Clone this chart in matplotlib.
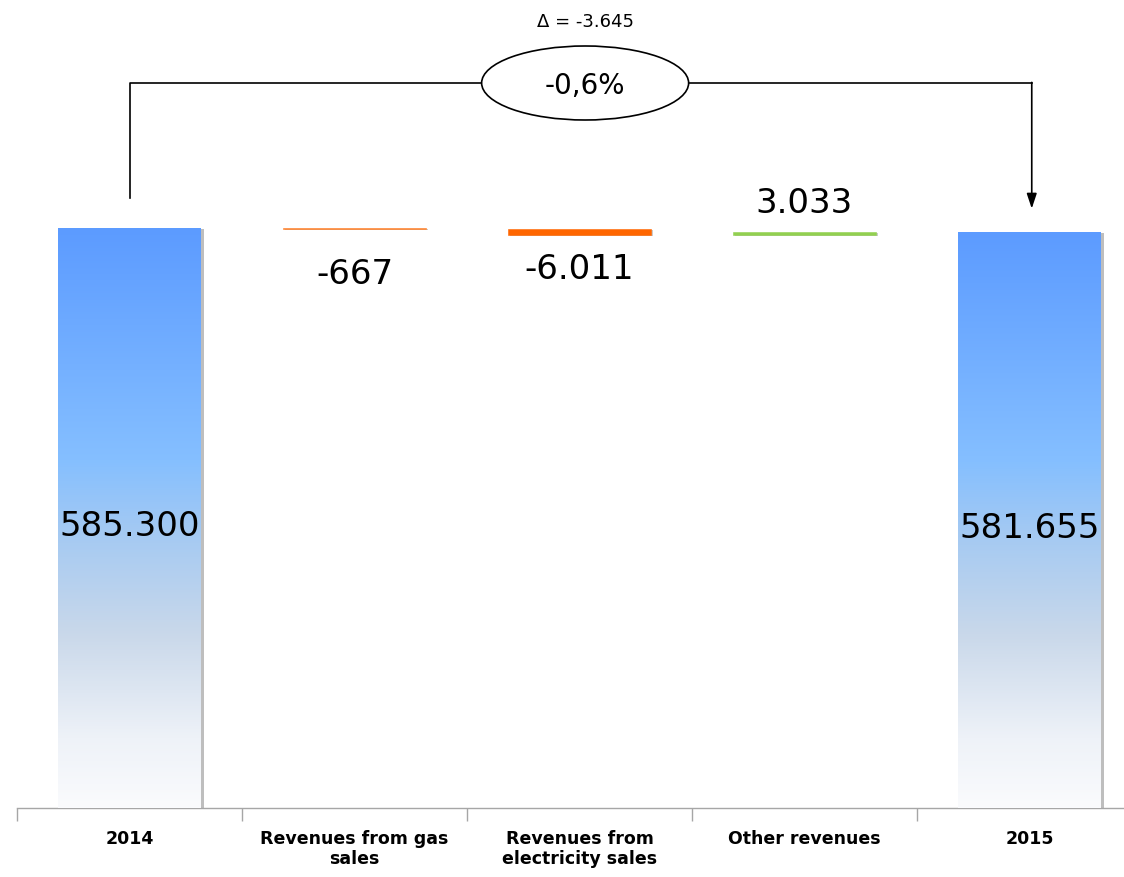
import matplotlib
matplotlib.use("Agg")
import matplotlib.pyplot as plt
import numpy as np
from matplotlib.patches import Ellipse
from matplotlib import patheffects as pe
from matplotlib.colors import LinearSegmentedColormap

# ---------- DATA ----------
categories = ["2014", "Revenues from gas\nsales", "Revenues from\nelectricity sales",
              "Other revenues", "2015"]
start_value = 585300
changes = [-667, -6011, 3033]
end_value = 581655
change_colors = ["#FF7F27", "#FF6600", "#92D050"]


def fmt(v):
    return f"{v:,.0f}".replace(",", ".")


# ---------- FIGURE ----------
fig = plt.figure(figsize=(11.24, 8.77), dpi=100)
ax = fig.add_axes([17 / 1124, 69 / 877, 1125 / 1124, 808 / 877])
ytop = start_value * 808 / 580
px = ytop / 808  # value units per pixel

blue = LinearSegmentedColormap.from_list(
    "bar_blue",
    [(0.0, "#FAFBFD"), (0.12, "#EEF2F8"), (0.3, "#C9D8EA"), (0.48, "#A3C9F3"),
     (0.6, "#85BFFF"), (1.0, "#5C9BFF")])
gradient = np.linspace(0, 1, 256).reshape(-1, 1)
shadow = [pe.SimplePatchShadow(offset=(2.5, -1), shadow_rgbFace="#7F7F7F", alpha=0.5), pe.Normal()]
bar_w = 0.635

# totals
for i, val in [(0, start_value), (4, end_value)]:
    bar = ax.bar(i, val, width=bar_w, color="white", zorder=2)[0]
    bar.set_path_effects(shadow)
    im = ax.imshow(gradient, cmap=blue, origin="lower", aspect="auto",
                   extent=[i - bar_w / 2, i + bar_w / 2, 0, val], zorder=3)
    im.set_clip_path(bar)
    ax.text(i, val * 0.485, fmt(val), ha="center", va="center", fontsize=24.5, zorder=5)

# changes
level = start_value
label_gap = [29, 18, 12]
for k, (c, col) in enumerate(zip(changes, change_colors)):
    x = k + 1
    bottom = min(level, level + c)
    bar = ax.bar(x, abs(c), bottom=bottom, width=bar_w, color=col,
                 edgecolor=col, linewidth=0.4, zorder=2)[0]
    bar.set_path_effects([pe.SimplePatchShadow(offset=(1.5, -1), shadow_rgbFace="#999999", alpha=0.5),
                          pe.Normal()])
    if c < 0:
        ax.annotate(fmt(c), (x, bottom), xytext=(0, -label_gap[k]), textcoords="offset pixels",
                    ha="center", va="top", fontsize=24.5)
    else:
        ax.annotate(fmt(c), (x, bottom + abs(c)), xytext=(0, label_gap[k]), textcoords="offset pixels",
                    ha="center", va="bottom", fontsize=24.5)
    level += c

# ---------- BRACKET ----------
delta = end_value - start_value
pct = delta / start_value * 100
line_y = start_value + 145 * px
ell_x, ell_w, ell_h = 2.025, 0.92, 74 * px
lw = 1.2
ax.plot([0, 0, ell_x - ell_w / 2], [start_value + 30 * px, line_y, line_y],
        color="black", lw=lw, clip_on=False, zorder=4)
ax.plot([ell_x + ell_w / 2, 4.01], [line_y, line_y], color="black", lw=lw, clip_on=False, zorder=4)
ax.annotate("", xy=(4.01, end_value + 23 * px), xytext=(4.01, line_y + 0.6 * px),
            arrowprops=dict(arrowstyle="-|>,head_length=0.9,head_width=0.3", lw=lw,
                            color="black", shrinkA=0, shrinkB=0), annotation_clip=False)
ax.add_patch(Ellipse((ell_x, line_y), ell_w, ell_h, facecolor="white", edgecolor="black",
                     lw=lw, zorder=4, clip_on=False))
ax.text(ell_x, line_y - 3 * px, f"{pct:.1f}%".replace(".", ","), ha="center", va="center",
        fontsize=20, zorder=5)
ax.text(ell_x, line_y + 61 * px, "\u0394 = " + fmt(delta), ha="center", va="center",
        fontsize=13, zorder=5)

# ---------- AXES ----------
ax.set_xlim(-0.5, 4.5)
ax.set_ylim(0, ytop)
ax.set_xticks(range(len(categories)))
ax.set_xticklabels(categories, fontweight="bold", fontsize=12.5, linespacing=1.1)
ax.set_xticks(np.arange(-0.5, 5, 1), minor=True)
ax.tick_params(axis="x", which="major", length=0, pad=16)
ax.tick_params(axis="x", which="minor", length=9, color="#A6A6A6", width=1)
ax.set_yticks([])
for s in ["left", "top", "right"]:
    ax.spines[s].set_visible(False)
ax.spines["bottom"].set_color("#A6A6A6")
ax.spines["bottom"].set_linewidth(1)

fig.savefig("out.png", dpi=100)
